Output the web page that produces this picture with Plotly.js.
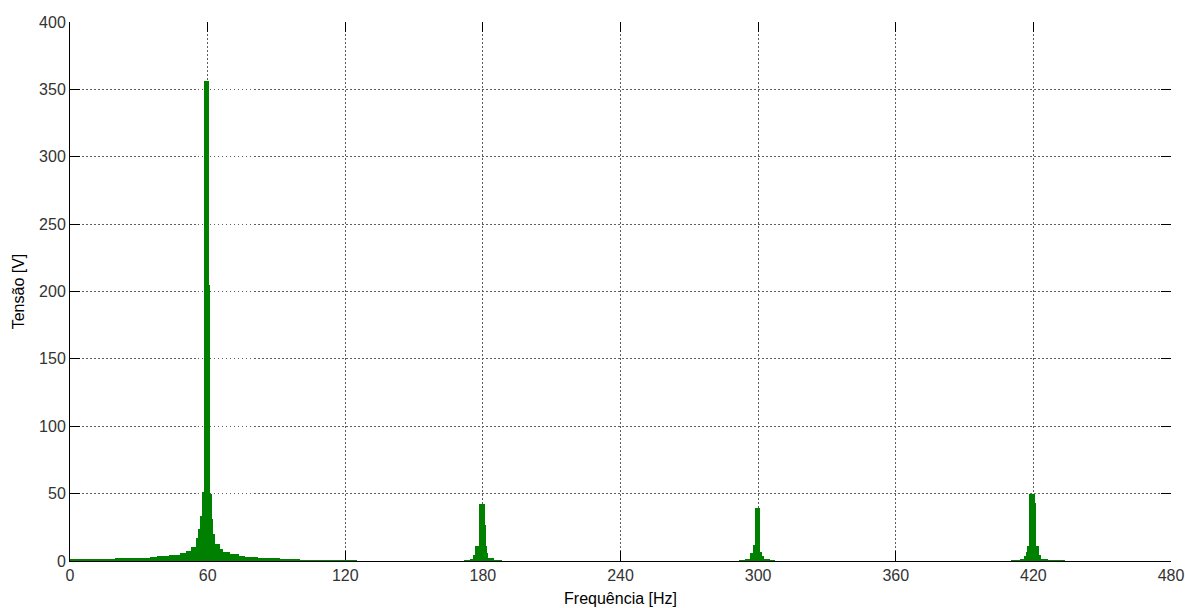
<!DOCTYPE html>
<html>
<head>
<meta charset="utf-8">
<script src="https://cdn.plot.ly/plotly-3.0.1.min.js"></script>
<style>
  html, body { margin: 0; padding: 0; background: #ffffff; }
  #chart { width: 1185px; height: 608px; }
</style>
</head>
<body>
<div id="chart"></div>
<script>
// Amplitude spectrum of the measured voltage, 0.5 Hz frequency bins.
const binHz = 0.5;

// Fundamental band, starting at 0 Hz
const fundStart = 0;
const fundBand = [
  // 0 – 9.5 Hz
  1.5,1.5,1.5,1.5,1.5,1.5,1.5,1.5,1.5,1.5,1.5,1.5,1.5,1.5,1.5,1.5,1.5,1.5,1.5,1.5,
  // 10 – 19.5 Hz
  1.7,1.7,1.7,1.7,1.7,1.7,1.7,1.7,1.7,1.7,1.7,1.7,1.7,1.7,1.7,1.7,1.7,1.7,1.7,1.7,
  // 20 – 27 Hz
  2.0,2.0,2.0,2.0,2.0,2.0,2.0,2.0,2.0,2.0,2.0,2.0,2.0,2.0,2.0,
  // 27.5 – 34.5 Hz
  2.5,2.5,2.5,2.5,2.5,2.5,2.5,2.5,2.5,2.5,2.5,2.5,2.5,2.5,2.5,
  // 35 – 37.5 Hz
  3.0,3.0,3.0,3.0,3.0,3.0,
  // 38 – 43 Hz
  3.5,3.5,3.5,3.5,3.5,3.5,3.5,3.5,3.5,3.5,3.5,
  // 43.5 – 47.5 Hz
  4.4,4.4,4.4,4.4,4.4,4.4,4.4,4.4,4.4,
  // 48 – 50.5 Hz
  5.7,5.7,5.7,5.7,5.7,5.7,
  // 51 – 54.5 Hz
  7.4,7.4,7.4,7.4,10.6,10.6,10.6,10.6,
  // 55 – 58 Hz
  16.8,16.8,24,24,33.5,33.5,51,
  // 58.5 – 61 Hz (fundamental)
  356,356,356,356,356,205,
  // 61.5 – 65 Hz
  49.5,31,20,20,12.6,12.6,12.6,12.6,
  // 65.5 – 69.5 Hz
  8.9,8.9,8.9,6.9,6.9,6.9,6.9,6.9,6.9,
  // 70 – 76 Hz
  5.2,5.2,5.2,5.2,5.2,5.2,5.2,5.2,4.0,4.0,4.0,4.0,4.0,
  // 76.5 – 81.5 Hz
  2.7,2.7,2.7,2.7,2.7,2.7,2.7,2.7,2.7,2.7,2.7,
  // 82 – 91.5 Hz
  2.0,2.0,2.0,2.0,2.0,2.0,2.0,2.0,2.0,2.0,2.0,2.0,2.0,2.0,2.0,2.0,2.0,2.0,2.0,2.0,
  // 92 – 100 Hz
  1.3,1.3,1.3,1.3,1.3,1.3,1.3,1.3,1.3,1.3,1.3,1.3,1.3,1.3,1.3,1.3,1.3,
  // 100.5 – 115 Hz
  0.9,0.9,0.9,0.9,0.9,0.9,0.9,0.9,0.9,0.9,0.9,0.9,0.9,0.9,0.9,
  0.9,0.9,0.9,0.9,0.9,0.9,0.9,0.9,0.9,0.9,0.9,0.9,0.9,0.9,0.9,
  // 115.5 – 125 Hz
  0.6,0.6,0.6,0.6,0.6,0.6,0.6,0.6,0.6,0.6,0.6,0.6,0.6,0.6,0.6,0.6,0.6,0.6,0.6,0.6
];

// 3rd harmonic band (180 Hz)
const h3Start = 172;
const h3Band = [
  0.6,0.6,0.6,0.6,0.6,
  1.5,1.5,1.5,
  4.7,4.7,
  10.8,10.8,10.8,
  42,42,42,42,42,
  27,11.3,6,
  2.2,2.2,2.2,2.2,2.2,
  1.0,1.0,1.0,
  0.6,0.6,0.6,0.6
];

// 5th harmonic band (300 Hz)
const h5Start = 292;
const h5Band = [
  0.6,0.6,0.6,0.6,0.6,
  1.5,1.5,1.5,1.5,
  6,6,6,
  12,12,
  39.5,39.5,39.5,39.5,
  7,7,
  3.4,3.4,
  1.5,1.5,1.5,1.5,1.5,
  0.6,0.6,0.6,0.6
];

// 7th harmonic band (420 Hz)
const h7Start = 410.5;
const h7Band = [
  0.6,0.6,0.6,0.6,0.6,0.6,0.6,0.6,
  1.5,1.5,1.5,
  3.4,3.4,
  7,
  10.8,10.8,
  50,50,50,50,50,
  43,
  10.8,10.8,
  4.7,4.7,
  1.5,1.5,1.5,1.5,1.5,1.5,
  0.6,0.6,0.6,0.6,0.6,0.6,0.6,0.6,0.6,0.6,0.6,0.6,0.6,0.6,0.6
];

const freqTicks = [0, 60, 120, 180, 240, 300, 360, 420, 480];
const voltTicks = [0, 50, 100, 150, 200, 250, 300, 350, 400];

// Assemble the bins into one frequency / amplitude series
const freq = [];
const amp = [];
[[fundStart, fundBand], [h3Start, h3Band], [h5Start, h5Band], [h7Start, h7Band]]
  .forEach(([start, band]) => {
    band.forEach((v, i) => { freq.push(start + i * binHz); amp.push(v); });
  });

const green = 'rgb(0,128,0)';
const gridColor = '#5e5e5e';
const fontFamily = 'Liberation Sans, Arial, sans-serif';
const tickFont = { family: fontFamily, size: 16, color: '#333333' };

const trace = {
  type: 'bar',
  x: freq,
  y: amp,
  width: binHz,
  marker: { color: green, line: { width: 0 } },
  hoverinfo: 'x+y'
};

// invisible companion trace so the mirrored tick axes are drawn
const mirrorTrace = {
  type: 'scatter', mode: 'markers', x: [], y: [], xaxis: 'x2', yaxis: 'y2',
  showlegend: false, hoverinfo: 'skip'
};

const layout = {
  width: 1185,
  height: 608,
  margin: { l: 70, r: 14, t: 22, b: 47 },
  paper_bgcolor: '#ffffff',
  plot_bgcolor: '#ffffff',
  showlegend: false,
  bargap: 0,
  xaxis: {
    range: [0, 480],
    tickvals: freqTicks,
    ticktext: freqTicks.map(String),
    ticks: 'inside', ticklen: 10, tickwidth: 1, tickcolor: '#000000',
    showline: true, linecolor: '#000000', linewidth: 1,
    showgrid: true, gridcolor: gridColor, gridwidth: 1, griddash: '1.5px,2.5px',
    zeroline: false,
    layer: 'below traces',
    tickfont: tickFont,
    title: { text: 'Frequência [Hz]', font: { family: fontFamily, size: 16, color: '#000000' }, standoff: 9 },
    fixedrange: true
  },
  yaxis: {
    range: [0, 400],
    tickvals: voltTicks,
    ticktext: voltTicks.map(String),
    ticks: 'inside', ticklen: 10, tickwidth: 1, tickcolor: '#000000',
    showline: true, linecolor: '#000000', linewidth: 1,
    showgrid: true, gridcolor: gridColor, gridwidth: 1, griddash: '1.5px,2.5px',
    zeroline: false,
    layer: 'below traces',
    tickfont: tickFont,
    title: { text: 'Tensão [V]', font: { family: fontFamily, size: 16, color: '#000000' }, standoff: 10 },
    fixedrange: true
  },
  xaxis2: {
    overlaying: 'x', side: 'top', anchor: 'y2', range: [0, 480], tickvals: freqTicks,
    ticks: 'inside', ticklen: 10, tickwidth: 1, tickcolor: '#000000',
    showticklabels: false, showgrid: false, showline: false, zeroline: false, fixedrange: true
  },
  yaxis2: {
    overlaying: 'y', side: 'right', anchor: 'x2', range: [0, 400], tickvals: voltTicks,
    ticks: 'inside', ticklen: 10, tickwidth: 1, tickcolor: '#000000',
    showticklabels: false, showgrid: false, showline: false, zeroline: false, fixedrange: true
  }
};

Plotly.newPlot('chart', [trace, mirrorTrace], layout, { staticPlot: true, displayModeBar: false });
</script>
</body>
</html>
